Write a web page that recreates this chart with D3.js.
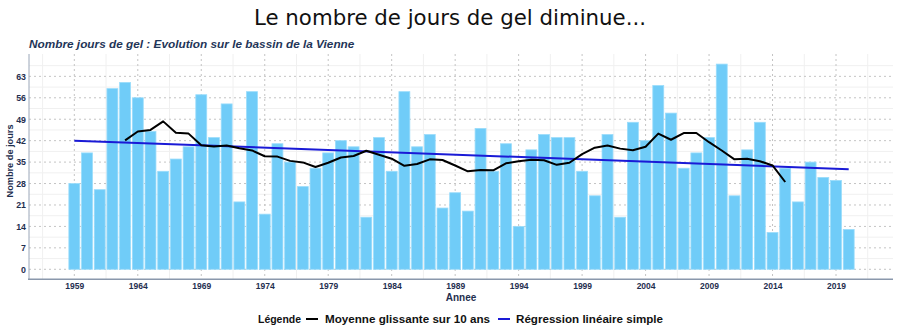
<!DOCTYPE html>
<html>
<head>
<meta charset="utf-8">
<script src="https://cdn.jsdelivr.net/npm/d3@7"></script>
<style>
  html, body { margin: 0; padding: 0; background: #ffffff; }
  svg { display: block; }
</style>
</head>
<body>
<svg id="chart" width="900" height="332"></svg>
<script>
// ---- Data ----
const years = d3.range(1959, 2021);
const gelDays = [
  28, 38, 26, 59, 61, 56, 45, 32, 36, 40,
  57, 43, 54, 22, 58, 18, 41, 35, 27, 33,
  38, 42, 40, 17, 43, 32, 58, 40, 44, 20,
  25, 19, 46, 32, 41, 14, 39, 44, 43, 43,
  32, 24, 44, 17, 48, 42, 60, 51, 33, 38,
  43, 67, 24, 39, 48, 12, 33, 22, 35, 30,
  29, 13
];
const maYears = d3.range(1963, 2016);
const maValues = [
  42.1, 45.0, 45.5, 48.3, 44.6, 44.3, 40.5, 40.1, 40.4, 39.5,
  38.8, 36.9, 36.8, 35.4, 34.9, 33.4, 34.8, 36.5, 37.0, 38.7,
  37.4, 36.1, 33.8, 34.4, 35.9, 35.7, 33.9, 32.0, 32.4, 32.3,
  34.6, 35.3, 35.8, 35.6, 34.1, 34.8, 37.6, 39.7, 40.4, 39.4,
  38.9, 40.0, 44.3, 42.3, 44.5, 44.5, 41.5, 38.8, 35.9, 36.1,
  35.3, 33.9, 28.5
];
const regYears = [1959, 2020];
const regValues = [42.0, 32.7];
const xTicks = [1959, 1964, 1969, 1974, 1979, 1984, 1989, 1994, 1999, 2004, 2009, 2014, 2019];
const yTicks = [0, 7, 14, 21, 28, 35, 42, 49, 56, 63];
const xMinor = [1956.5, 1961.5, 1966.5, 1971.5, 1976.5, 1981.5, 1986.5, 1991.5, 1996.5, 2001.5, 2006.5, 2011.5, 2016.5, 2021.5];
const yMinor = [3.5, 10.5, 17.5, 24.5, 31.5, 38.5, 45.5, 52.5, 59.5, 66.5];

const mainTitle = "Le nombre de jours de gel diminue...";
const subTitle = "Nombre jours de gel : Evolution sur le bassin de la Vienne";
const xTitle = "Annee";
const yTitle = "Nombre de jours";
const legendTitle = "Légende";
const legendItems = ["Moyenne glissante sur 10 ans", "Régression linéaire simple"];

// ---- Layout ----
const svg = d3.select("#chart");
const L = 29, R = 893, T = 54, B = 279.3;
const x = d3.scaleLinear().domain([1955.43, 2023.49]).range([L, R]);
const y = d3.scaleLinear().domain([-3.27, 70.3]).range([B, T]);
const navy = "#1f2f4f";
const font = "'Liberation Sans', Arial, sans-serif";

// Titles
svg.append("text").attr("x", 450).attr("y", 25).attr("text-anchor", "middle")
  .attr("font-family", "'DejaVu Sans', Verdana, sans-serif").attr("font-size", 21.3)
  .attr("fill", "#111").text(mainTitle);
svg.append("text").attr("x", L).attr("y", 47.5)
  .attr("font-family", font).attr("font-size", 11.8).attr("font-weight", "bold")
  .attr("font-style", "italic").attr("fill", "#1f3558").text(subTitle);

// Minor grid
const g = svg.append("g");
g.selectAll(".ymin").data(yMinor).join("line")
  .attr("x1", L).attr("x2", R).attr("y1", d => y(d)).attr("y2", d => y(d))
  .attr("stroke", "#f0f0f0").attr("stroke-width", 1);
g.selectAll(".xmin").data(xMinor).join("line")
  .attr("x1", d => x(d)).attr("x2", d => x(d)).attr("y1", T).attr("y2", B)
  .attr("stroke", "#f0f0f0").attr("stroke-width", 1);
// Major grid (dotted)
g.selectAll(".ymaj").data(yTicks).join("line")
  .attr("x1", L).attr("x2", R).attr("y1", d => y(d)).attr("y2", d => y(d))
  .attr("stroke", "#c4c4c4").attr("stroke-width", 1).attr("stroke-dasharray", "2,3");
g.selectAll(".xmaj").data(xTicks).join("line")
  .attr("x1", d => x(d)).attr("x2", d => x(d)).attr("y1", T).attr("y2", B)
  .attr("stroke", "#c4c4c4").attr("stroke-width", 1).attr("stroke-dasharray", "2,3");

// Bars
const half = 0.43;
svg.append("g").selectAll("rect").data(years.map((yr, i) => ({yr, v: gelDays[i]}))).join("rect")
  .attr("x", d => x(d.yr - half))
  .attr("width", d => x(d.yr + half) - x(d.yr - half))
  .attr("y", d => y(d.v))
  .attr("height", d => y(0) - y(d.v))
  .attr("fill", "#70ccf8")
  .attr("stroke", "#9adcfb").attr("stroke-width", 0.8);

// Regression line
const line = d3.line().x(d => x(d[0])).y(d => y(d[1]));
svg.append("path").datum(regYears.map((yr, i) => [yr, regValues[i]]))
  .attr("d", line).attr("fill", "none").attr("stroke", "#1a1ad6").attr("stroke-width", 2);
// Moving average
svg.append("path").datum(maYears.map((yr, i) => [yr, maValues[i]]))
  .attr("d", line).attr("fill", "none").attr("stroke", "#000").attr("stroke-width", 2)
  .attr("stroke-linejoin", "round");

// Axes lines
svg.append("line").attr("x1", L).attr("x2", L).attr("y1", T).attr("y2", B)
  .attr("stroke", "#9aa6b8").attr("stroke-width", 1);
svg.append("line").attr("x1", L - 1).attr("x2", R).attr("y1", B).attr("y2", B)
  .attr("stroke", "#8a98ac").attr("stroke-width", 1.6);

// X axis
const xAxis = svg.append("g").attr("transform", `translate(0,${B})`)
  .call(d3.axisBottom(x).tickValues(xTicks).tickFormat(d3.format("d")).tickSize(0).tickPadding(4));
xAxis.select(".domain").remove();
xAxis.selectAll("text").attr("font-family", font).attr("font-size", 8.5)
  .attr("font-weight", "bold").attr("fill", navy);

// Y axis
const yAxis = svg.append("g").attr("transform", `translate(${L},0)`)
  .call(d3.axisLeft(y).tickValues(yTicks).tickSize(0).tickPadding(3));
yAxis.select(".domain").remove();
yAxis.selectAll("text").attr("font-family", font).attr("font-size", 8.8)
  .attr("font-weight", "bold").attr("fill", navy);

// Axis titles
svg.append("text").attr("x", (L + R) / 2).attr("y", 301).attr("text-anchor", "middle")
  .attr("font-family", font).attr("font-size", 10).attr("font-weight", "bold")
  .attr("fill", navy).text(xTitle);
svg.append("text").attr("transform", "translate(13,161) rotate(-90)").attr("text-anchor", "middle")
  .attr("font-family", font).attr("font-size", 9.2).attr("font-weight", "bold")
  .attr("fill", navy).text(yTitle);

// Legend
const leg = svg.append("g").attr("font-family", font).attr("font-size", 10.5)
  .attr("font-weight", "bold").attr("fill", "#111");
leg.append("text").attr("x", 258).attr("y", 323).attr("textLength", 43)
  .attr("lengthAdjust", "spacingAndGlyphs").text(legendTitle);
leg.append("line").attr("x1", 306).attr("x2", 318).attr("y1", 319).attr("y2", 319)
  .attr("stroke", "#000").attr("stroke-width", 2);
leg.append("text").attr("x", 325).attr("y", 323).attr("textLength", 165)
  .attr("lengthAdjust", "spacingAndGlyphs").text(legendItems[0]);
leg.append("line").attr("x1", 498).attr("x2", 510).attr("y1", 319).attr("y2", 319)
  .attr("stroke", "#1a1ad6").attr("stroke-width", 2);
leg.append("text").attr("x", 516).attr("y", 323).attr("textLength", 147)
  .attr("lengthAdjust", "spacingAndGlyphs").text(legendItems[1]);
</script>
</body>
</html>
